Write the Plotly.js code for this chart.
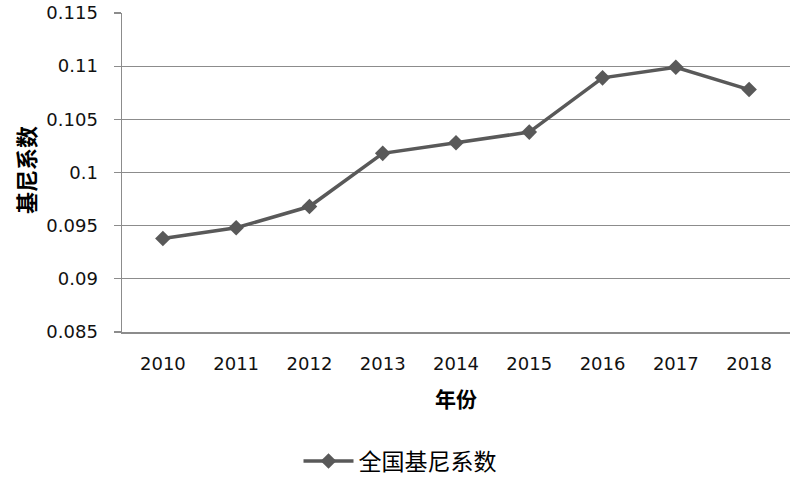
<!DOCTYPE html>
<html>
<head>
<meta charset="utf-8">
<script src="https://cdn.plot.ly/plotly-3.0.1.min.js"></script>
<style>html,body{margin:0;padding:0;background:#fff;}#chart{width:800px;height:482px;}</style>
</head>
<body>
<div id="chart"></div>
<script>
const years = ['2010','2011','2012','2013','2014','2015','2016','2017','2018'];
const gini = [0.0938, 0.0948, 0.0968, 0.1018, 0.1028, 0.1038, 0.1089, 0.1099, 0.1078];
const seriesName = '全国基尼系数';
const yTicks = [0.085, 0.09, 0.095, 0.1, 0.105, 0.11, 0.115];
const yTickText = ['0.085', '0.09', '0.095', '0.1', '0.105', '0.11', '0.115'];
const xTitle = '年份';
const yTitle = '基尼系数';

const cjk = 'Noto Sans CJK SC, sans-serif';
const trace = {
  x: years, y: gini, name: seriesName, type: 'scatter', mode: 'lines+markers',
  line: {color: '#595959', width: 3.5},
  marker: {symbol: 'diamond', size: 12, color: '#595959'}
};
const layout = {
  width: 800, height: 482,
  margin: {l: 122, r: 10, t: 13, b: 150},
  paper_bgcolor: '#fff', plot_bgcolor: '#fff',
  font: {family: 'DejaVu Sans, sans-serif', size: 18, color: '#111'},
  showlegend: true,
  legend: {orientation: 'h', x: 0.5, xref: 'container', xanchor: 'center',
    y: 0.0436, yref: 'container', yanchor: 'middle',
    itemwidth: 50,
    font: {family: cjk, size: 23, color: '#000'}},
  xaxis: {
    type: 'category', showgrid: false, zeroline: false,
    showline: true, linecolor: '#8c8c8c', linewidth: 1.5, ticks: '',
    ticklabelstandoff: 15
  },
  yaxis: {
    range: [0.085, 0.115], tickvals: yTicks, ticktext: yTickText,
    showgrid: true, gridcolor: '#8c8c8c', gridwidth: 1.2, zeroline: false,
    showline: true, linecolor: '#8c8c8c', linewidth: 1.5,
    ticks: 'outside', ticklen: 7, tickcolor: '#8c8c8c', tickwidth: 1.2,
    ticklabelstandoff: 12
  },
  annotations: [
    {text: '<b>' + xTitle + '</b>', xref: 'paper', yref: 'paper', x: 0.5, y: 0,
     xanchor: 'center', yanchor: 'middle', yshift: -65.5, showarrow: false,
     font: {family: cjk, size: 21, color: '#000'}},
    {text: '<b>' + yTitle + '</b>', xref: 'paper', yref: 'paper', x: 0, y: 0.508,
     xanchor: 'center', yanchor: 'middle', xshift: -97, textangle: -90, showarrow: false,
     font: {family: cjk, size: 22, color: '#000'}}
  ]
};
Plotly.newPlot('chart', [trace], layout, {displayModeBar: false, staticPlot: true});
</script>
</body>
</html>
